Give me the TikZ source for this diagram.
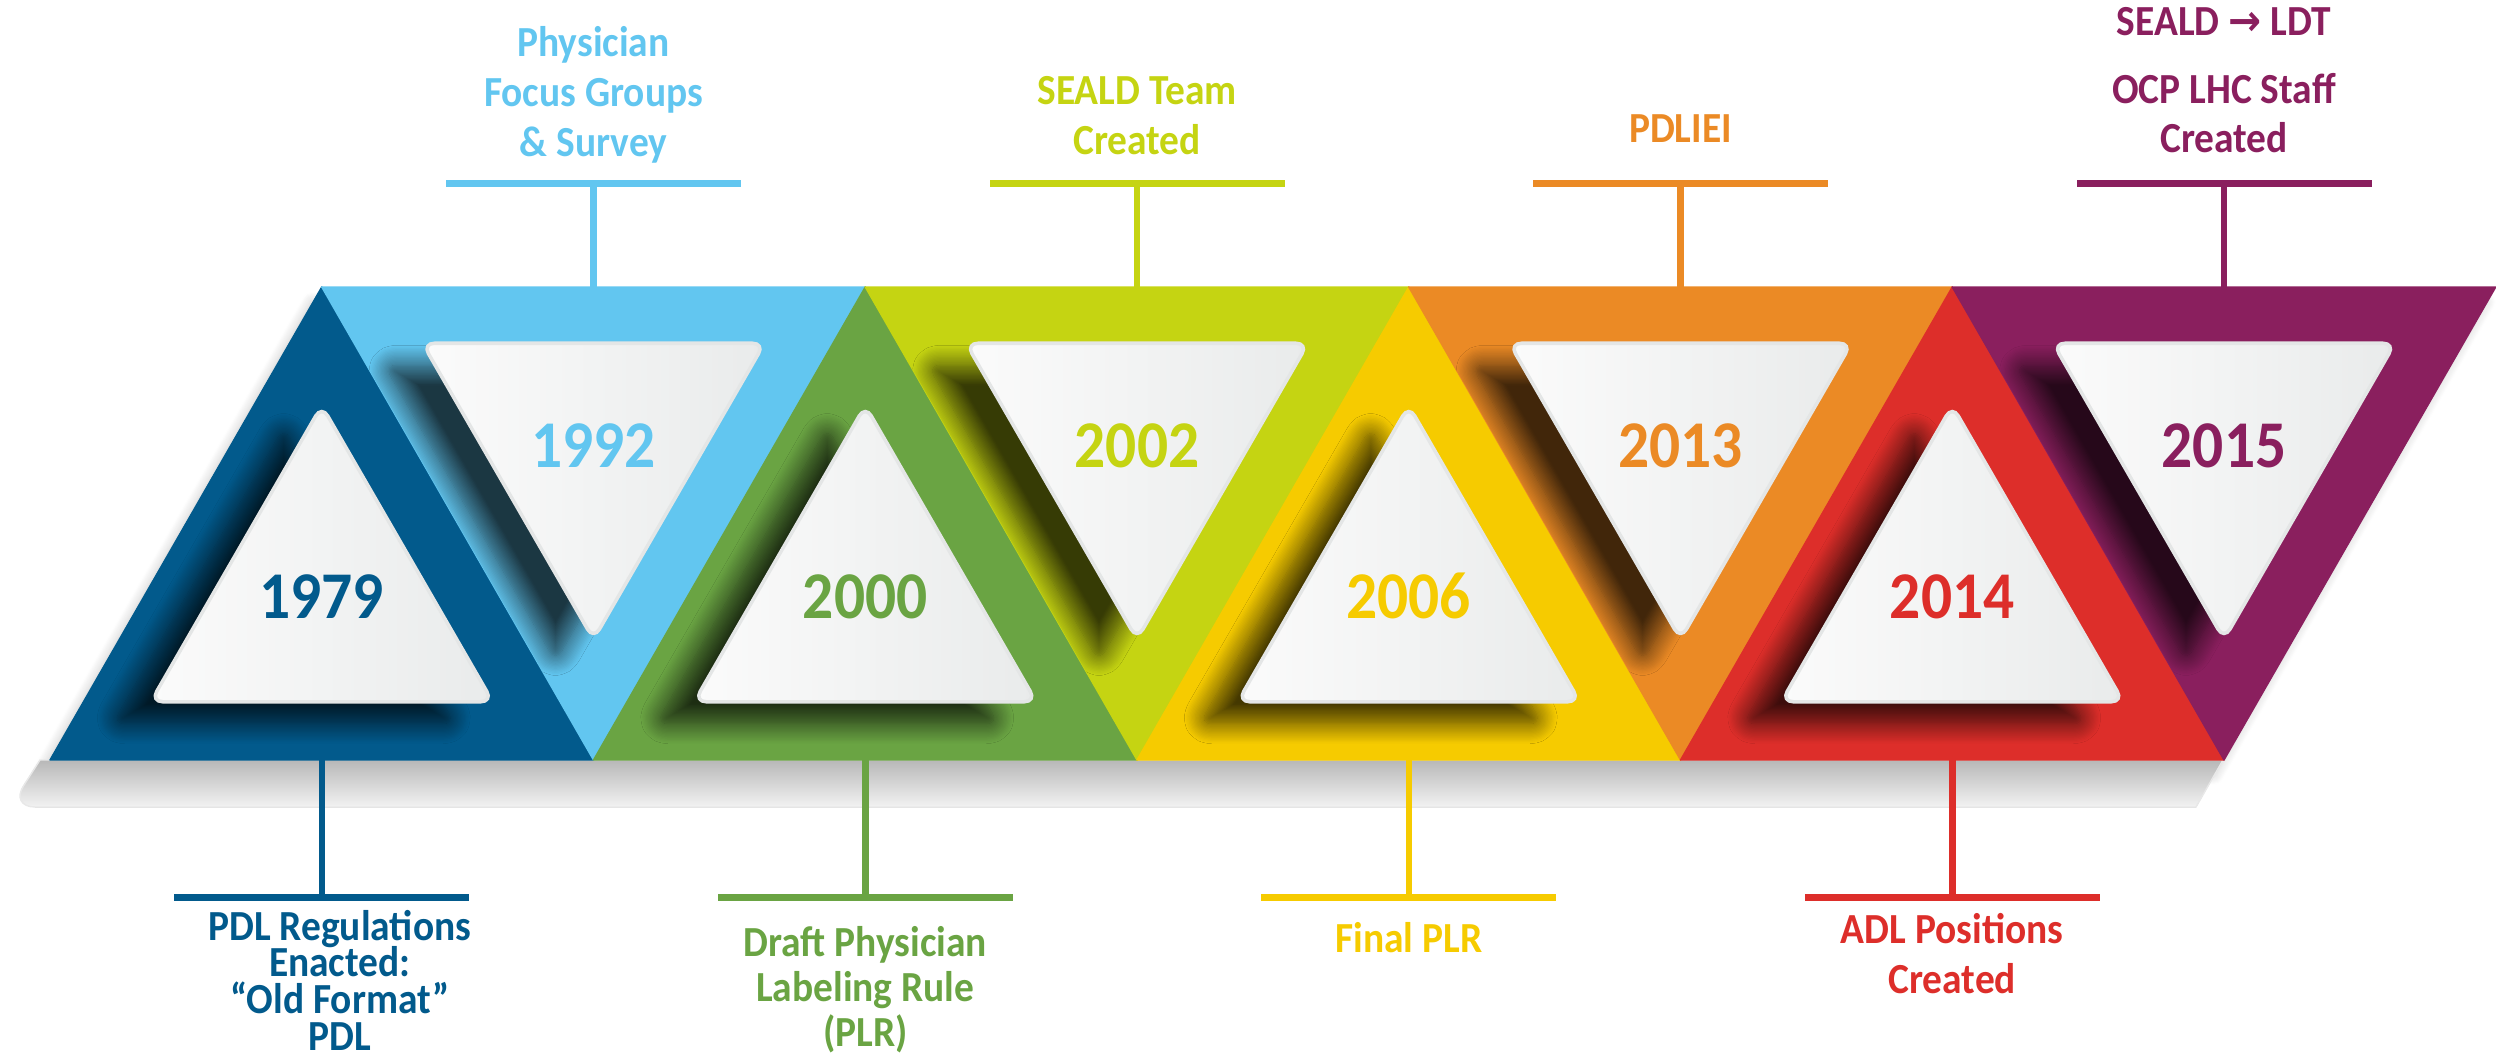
\documentclass[tikz,border=0pt]{standalone}
\usepackage{fontspec}
\setmainfont{Carlito}[FakeStretch=0.92]
\newfontfamily\arrowfont{DejaVu Sans}[FakeStretch=0.92]
\usepackage{xcolor}
\usetikzlibrary{shapes.geometric, shadows.blur, positioning}

\definecolor{c1979}{RGB}{2,90,140}
\definecolor{c1992}{RGB}{98,198,240}
\definecolor{c2000}{RGB}{106,164,67}
\definecolor{c2002}{RGB}{197,212,18}
\definecolor{c2006}{RGB}{246,203,0}
\definecolor{c2013}{RGB}{235,138,37}
\definecolor{c2014}{RGB}{221,46,42}
\definecolor{c2015}{RGB}{138,31,94}
\definecolor{cardL}{RGB}{251,251,251}
\definecolor{cardR}{RGB}{233,235,235}
\definecolor{cardE}{RGB}{228,230,230}

\begin{document}
\begin{tikzpicture}[
    seg/.style={line width=0.4pt, line join=round},
    card/.style={regular polygon, regular polygon sides=3, minimum size=3.95cm,
                 inner sep=0pt, outer sep=0pt, rounded corners=0.12cm,
                 left color=cardL, right color=cardR, draw=cardE, line width=1pt,
                 font=\fontsize{19}{22}\selectfont\bfseries,
                 blur shadow={shadow xshift=-0.38cm, shadow yshift=-0.22cm,
                              shadow blur radius=0.2cm, shadow blur steps=16,
                              shadow opacity=72}},
    upcard/.style={card, text height=0.42cm, text depth=0.12cm},
    downcard/.style={card, shape border rotate=180,
                     text height=0.50cm, text depth=0cm},
    tbar/.style={rectangle, minimum width=2.95cm, minimum height=0.07cm,
                 inner sep=0pt, outer sep=0pt},
    stem/.style={line width=0.065cm},
    toplabel/.style={align=center, inner sep=0pt,
                     font=\fontsize{12.2}{14.2}\selectfont\bfseries},
    botlabel/.style={toplabel}
]
\useasboundingbox (0,0) rectangle (24.96,10.58);

% corners of the band
\coordinate (b0) at (0.50,2.98);
\coordinate (b1) at (5.935,2.98);
\coordinate (b2) at (11.37,2.98);
\coordinate (b3) at (16.805,2.98);
\coordinate (b4) at (22.24,2.98);
\coordinate (t0) at (3.2175,7.71);
\coordinate (t1) at (8.6525,7.71);
\coordinate (t2) at (14.0875,7.71);
\coordinate (t3) at (19.5225,7.71);
\coordinate (t4) at (24.9575,7.71);

% shadow under the band
\fill[white, blur shadow={shadow xshift=-0.1cm, shadow yshift=-0.15cm,
      shadow blur radius=0.1cm, shadow blur steps=10, shadow opacity=22}]
      (b0) -- (t0) -- (t4) -- (b4) -- cycle;
\fill[top color=black!28, bottom color=black!5, draw=black!9, line width=0.4pt]
      (0.40,2.98) [rounded corners=0.25cm] -- (0.10,2.51) [sharp corners]
      -- (21.96,2.51) -- (22.23,2.98) -- cycle;

% coloured triangles
\filldraw[seg, c1979] (b0) -- (b1) -- (t0) -- cycle;
\filldraw[seg, c1992] (t0) -- (t1) -- (b1) -- cycle;
\filldraw[seg, c2000] (b1) -- (b2) -- (t1) -- cycle;
\filldraw[seg, c2002] (t1) -- (t2) -- (b2) -- cycle;
\filldraw[seg, c2006] (b2) -- (b3) -- (t2) -- cycle;
\filldraw[seg, c2013] (t2) -- (t3) -- (b3) -- cycle;
\filldraw[seg, c2014] (b3) -- (b4) -- (t3) -- cycle;
\filldraw[seg, c2015] (t3) -- (t4) -- (b4) -- cycle;

% year cards
\begin{scope}
  \clip (b0) -- (b1) -- (t0) -- cycle;
  \node (y1979) [upcard, text=c1979] at (3.2175,4.55) {1979};
\end{scope}
\begin{scope}
  \clip (t0) -- (t1) -- (b1) -- cycle;
  \node (y1992) [downcard, text=c1992] at (5.935,6.16) {1992};
\end{scope}
\begin{scope}
  \clip (b1) -- (b2) -- (t1) -- cycle;
  \node (y2000) [upcard, text=c2000] at (8.6525,4.55) {2000};
\end{scope}
\begin{scope}
  \clip (t1) -- (t2) -- (b2) -- cycle;
  \node (y2002) [downcard, text=c2002] at (11.37,6.16) {2002};
\end{scope}
\begin{scope}
  \clip (b2) -- (b3) -- (t2) -- cycle;
  \node (y2006) [upcard, text=c2006] at (14.0875,4.55) {2006};
\end{scope}
\begin{scope}
  \clip (t2) -- (t3) -- (b3) -- cycle;
  \node (y2013) [downcard, text=c2013] at (16.805,6.16) {2013};
\end{scope}
\begin{scope}
  \clip (b3) -- (b4) -- (t3) -- cycle;
  \node (y2014) [upcard, text=c2014] at (19.5225,4.55) {2014};
\end{scope}
\begin{scope}
  \clip (t3) -- (t4) -- (b4) -- cycle;
  \node (y2015) [downcard, text=c2015] at (22.24,6.16) {2015};
\end{scope}

% events above the band
\coordinate (s1992) at (5.935,7.71);
\coordinate (s2002) at (11.37,7.71);
\coordinate (s2013) at (16.805,7.71);
\coordinate (s2015) at (22.24,7.71);
\node (bar1992) [tbar, fill=c1992, above=1.0cm of s1992] {};
\node (bar2002) [tbar, fill=c2002, above=1.0cm of s2002] {};
\node (bar2013) [tbar, fill=c2013, above=1.0cm of s2013] {};
\node (bar2015) [tbar, fill=c2015, above=1.0cm of s2015] {};
\node (lab1992) [toplabel, text=c1992, above=0.16cm of bar1992]
      {Physician\\Focus Groups\\\& Survey};
\node (lab2002) [toplabel, text=c2002, above=0.245cm of bar2002]
      {SEALD Team\\Created};
\node (lab2013) [toplabel, text=c2013, above=0.365cm of bar2013] {PDLIEI};
\node (lab2015) [toplabel, text=c2015, above=0.26cm of bar2015]
      {SEALD {\arrowfont →} LDT\\[5pt]OCP LHC Staff\\Created};
\draw[stem, c1992] (s1992) -- (bar1992);
\draw[stem, c2002] (s2002) -- (bar2002);
\draw[stem, c2013] (s2013) -- (bar2013);
\draw[stem, c2015] (s2015) -- (bar2015);

% events below the band
\coordinate (s1979) at (3.2175,2.98);
\coordinate (s2000) at (8.6525,2.98);
\coordinate (s2006) at (14.0875,2.98);
\coordinate (s2014) at (19.5225,2.98);
\node (bar1979) [tbar, fill=c1979, below=1.335cm of s1979] {};
\node (bar2000) [tbar, fill=c2000, below=1.335cm of s2000] {};
\node (bar2006) [tbar, fill=c2006, below=1.335cm of s2006] {};
\node (bar2014) [tbar, fill=c2014, below=1.335cm of s2014] {};
\node (lab1979) [botlabel, text=c1979, below=0.09cm of bar1979, xshift=0.18cm]
      {PDL Regulations\\[-3.8pt]Enacted:\\[-3.8pt]“Old Format”\\[-3.8pt]PDL};
\node (lab2000) [botlabel, text=c2000, below=0.25cm of bar2000]
      {Draft Physician\\[-1.3pt]Labeling Rule\\[-1.3pt](PLR)};
\node (lab2006) [botlabel, text=c2006, below=0.21cm of bar2006] {Final PLR};
\node (lab2014) [botlabel, text=c2014, below=0.125cm of bar2014]
      {ADL Positions\\Created};
\draw[stem, c1979] (s1979) -- (bar1979);
\draw[stem, c2000] (s2000) -- (bar2000);
\draw[stem, c2006] (s2006) -- (bar2006);
\draw[stem, c2014] (s2014) -- (bar2014);
\end{tikzpicture}
\end{document}
